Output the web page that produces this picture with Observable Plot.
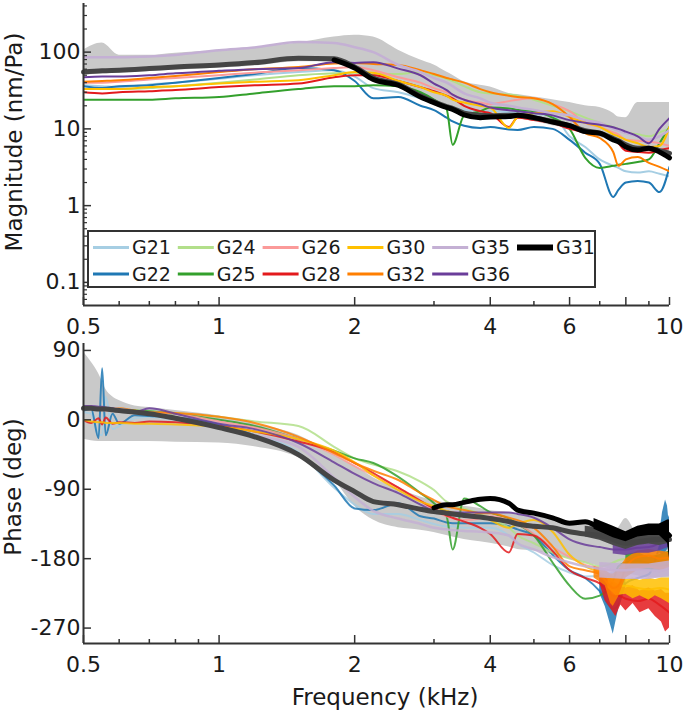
<!DOCTYPE html>
<html><head><meta charset="utf-8">
<script src="https://cdn.jsdelivr.net/npm/d3@7"></script>
<script src="https://cdn.jsdelivr.net/npm/@observablehq/plot@0.6"></script>
<style>body{margin:0;background:#fff}#chart{width:685px}#chart svg{display:block}</style>
</head><body><div id="chart"></div>
<script>
// ---------- DATA ----------
const magFreq = [0.5,0.55,0.6,0.7,0.8,1,1.2,1.5,1.8,2,2.2,2.5,2.8,3,3.2,3.3,3.5,3.8,4,4.4,4.6,5,5.5,6,6.5,7,7.5,7.7,8,8.5,9,9.5,10];
const magG21 = [37,36,35,38,40,45,50,55,58,48,34,30,25,22,20,19,17.6,17,17,16.5,16,15.5,15,8,5.8,4,3.3,3.1,2.8,2.7,2.8,2.6,2.4];
const magG22 = [36,34,36,37,40,46,52,62,58,42,25,26,20,17.6,14,12.5,11,10.3,10.6,9.8,9.7,10.6,10,7.2,4.9,3.5,1.3,1.6,2.0,2.1,2.0,1.5,3.2];
const magG24 = [33,33,33,34,36,40,44,50,53,54,52,52,55,50,45,42,36,30,29,28,27,24,20,17,14,12,10.5,10,9,8.5,8,9,10];
const magG25 = [24,24,24,24,25,26,29,33,36,36,37,36,30,24,18,6.2,15,17,19,18.5,17.6,17,14,10,4.2,3.1,3.3,3.4,3.5,3.7,4.0,6.5,10.6];
const magG26 = [40,40,41,44,46,50,54,58,62,64,58,47,40,34,30,28,24,22,21,23,24,25,21,17,12,10.6,9,8.5,7.2,7,6.8,6.5,6];
const magG28 = [30,29,30,31,32,35,37,39,47,50,50,42,35,31,27,25,20,17,16,10.6,14,13,12,10,9,8.5,7.5,6.5,5.2,5,4.9,5.3,5.6];
const magG30 = [33,33,33,35,36,39,41,43,50,55,54,42,35,30,27,24,22,20,19,10.3,14.3,16,17,14.3,12,10.6,8.5,8,7.2,6.5,5.8,6,10.6];
const magG32 = [41,42,43,46,49,55,60,64,71,72,70,68,58,52,46,44,40,33,30,27,26,25,21,14.3,8.8,7.6,5.0,3.3,4.0,4.3,3.6,3.2,2.8];
const magG35 = [86,86,86,88,92,106,115,135,131,116,100,68,55,46,40,36,29,25,22,20,19,17.6,16,15,13,12,10,9.5,8.8,8,7.2,8,9.7];
const magG36 = [47,48,48,50,53,57,60,62,74,72,74,61,50,39,32,28,24,21,19,17.5,17,16,15,13,12,11.3,10.5,10,9.2,8,6.5,10,13.8];
const magG31 = [null,null,null,null,null,null,null,null,79,62,44,37,26,22,19,18,15.2,14,14.3,14.5,15,14,12.3,11,9.2,8.8,7.2,6.8,5.8,5.3,5.6,5,4.2];
const magMean = [55,57,58,61,64,68,73,83,82,64,46,38,27,22.5,19.5,18.5,16,15,14.8,15,15,14,12.5,11,9.5,8.8,7.5,7,6.2,5.6,5.6,5.2,4.8];
const magBandHi = [106,131,91,91,97,106,116,131,157,166,157,106,79,68,55,50,41,37,35,29,28,26,24,22,20,19,16,14.3,14,22,22,22,22];
const magBandLo = [50,52,53,56,58,62,66,75,74,58,42,34,25,20,18,17,14.5,13.5,13.5,13.5,13.5,12.5,11,10,8.5,7.8,6.8,6.3,5.6,5.0,5.0,4.7,4.3];

const phaseFreq = [0.5,0.52,0.54,0.55,0.56,0.58,0.6,0.65,0.7,0.8,1,1.2,1.5,1.8,2,2.2,2.5,2.8,3,3.2,3.3,3.5,3.8,4,4.4,4.6,5,5.5,6,6.5,7,7.5,7.7,8,8.5,9,9.5,10];
const phG21 = [10,8,-18,-20,30,-12,-8,2,4,0,-10,-20,-42,-88,-110,-122,-122,-130,-135,-138,-138,-140,-140,-140,-150,-160,-172,-188,-198,-203,-202,-198,-195,-190,-190,-188,-188,-190];
const phG22 = [12,14,-24,67,-20,8,-5,6,5,3,-6,-20,-45,-85,-115,-117,-108,-125,-128,-133,-134,-134,-134,-134,-138,-142,-150,-175,-195,-205,-222,-245,-240,-212,-205,-200,-165,-125];
const phG24 = [15,15,14,14,14,13,13,12,11,9,4,-2,-8,-35,-50,-58,-67,-80,-91,-106,-110,-115,-122,-128,-140,-150,-160,-172,-180,-185,-190,-185,-182,-180,-178,-176,-175,-175];
const phG25 = [15,15,15,15,14,14,13,12,11,8,0,-8,-25,-40,-50,-56,-74,-95,-108,-125,-168,-102,-112,-120,-128,-135,-150,-185,-215,-232,-228,-208,-190,-185,-183,-186,-188,-185];
const phG26 = [15,14,13,13,12,12,12,11,10,8,-2,-10,-25,-45,-60,-72,-88,-105,-118,-125,-128,-130,-128,-125,-130,-135,-148,-165,-178,-188,-192,-195,-195,-195,-192,-190,-192,-190];
const phG28 = [0,-4,2,-6,3,-5,-3,-4,-2,-3,-8,-15,-28,-42,-56,-69,-88,-105,-115,-124,-127,-132,-140,-148,-172,-148,-150,-170,-195,-205,-212,-228,-228,-232,-235,-232,-240,-250];
const phG30 = [0,-2,-3,-3,-4,-4,-4,-5,-5,-6,-9,-15,-25,-40,-55,-72,-91,-106,-112,-118,-120,-122,-125,-130,-140,-135,-130,-145,-175,-190,-198,-210,-215,-215,-218,-220,-218,-220];
const phG32 = [18,17,16,16,15,15,15,12,10,9,4,-4,-22,-43,-56,-66,-78,-95,-104,-112,-114,-117,-121,-121,-127,-130,-140,-164,-190,-195,-200,-218,-215,-192,-178,-176,-180,-178];
const phG35 = [18,17,16,16,15,15,14,11,8,3,-10,-20,-35,-75,-100,-118,-128,-135,-140,-142,-143,-144,-145,-146,-150,-160,-168,-178,-185,-190,-193,-195,-195,-195,-194,-195,-196,-192];
const phG36 = [18,18,17,17,16,15,12,10,15,8,-5,-12,-30,-55,-70,-82,-95,-110,-118,-120,-120,-120,-120,-120,-120,-122,-127,-140,-155,-162,-165,-168,-168,-168,-166,-165,-160,-150];
const phG31 = [null,null,null,null,null,null,null,null,null,null,null,null,null,null,null,null,null,null,-114,-110,-110,-107,-103,-102,-108,-117,-121,-127,-134,-132,-140,-148,-150,-152,-147,-145,-142,-150];
const phMean = [15,15,14,14,14,13,12,10,8,2,-10,-22,-45,-78,-93,-106,-110,-116,-119,-121,-122,-124,-126,-128,-132,-135,-138,-140,-145,-148,-150,-155,-158,-160,-158,-156,-155,-155];
const phBandHi = [88,75,60,50,40,30,25,18,16,12,5,-5,-20,-45,-60,-75,-90,-100,-105,-108,-110,-112,-115,-118,-120,-122,-125,-128,-132,-135,-140,-145,-140,-128,-148,-150,-150,-150];
const phBandLo = [-25,-27,-28,-28,-28,-28,-28,-28,-28,-29,-30,-35,-49,-78,-112,-130,-140,-143,-146,-150,-152,-155,-158,-160,-165,-168,-170,-175,-180,-185,-190,-195,-198,-200,-202,-205,-205,-205];

// noisy high-frequency spread of some phase traces (min/max envelopes)
const noiseRedF = [7.0,7.2,7.4,7.6,7.8,8.0,8.3,8.6,9.0,9.3,9.6,9.8,10];
const noiseRedLo = [-212,-235,-245,-255,-240,-248,-238,-250,-245,-255,-262,-275,-270];
const noiseRedHi = [-198,-205,-208,-212,-215,-218,-215,-222,-218,-222,-220,-225,-225];
const noiseYellowF = [7.3,7.6,8.0,8.3,8.6,9.0,9.3,9.6,10];
const noiseYellowLo = [-218,-228,-226,-232,-228,-234,-228,-232,-238];
const noiseYellowHi = [-200,-205,-207,-205,-208,-205,-207,-205,-205];
const noiseOrangeF = [6.8,7.2,7.4,7.5,7.7,8.0,8.5,9.0,9.5,10];
const noiseOrangeLo = [-205,-215,-238,-242,-230,-205,-195,-192,-195,-195];
const noiseOrangeHi = [-190,-195,-200,-200,-195,-180,-170,-168,-170,-172];
const noiseBlueF = [7.0,7.2,7.4,7.5,7.6,7.8,8.0];
const noiseBlueLo = [-225,-242,-266,-278,-262,-232,-215];
const noiseBlueHi = [-205,-210,-220,-230,-225,-210,-205];
const noiseBlue2F = [9.5,9.65,9.8,9.9,10];
const noiseBlue2Lo = [-172,-176,-172,-168,-160];
const noiseBlue2Hi = [-150,-120,-104,-112,-138];
const noiseGreenF = [8.0,8.5,9.0,9.5,10];
const noiseGreenLo = [-195,-195,-195,-195,-190];
const noiseGreenHi = [-175,-172,-178,-175,-170];
const noisePurpleF = [7.5,8,8.5,9,9.5,10];
const noisePurpleLo = [-174,-176,-173,-173,-170,-165];
const noisePurpleHi = [-160,-160,-160,-157,-154,-148];
const noiseLavenderF = [7,8,9,10];
const noiseLavenderLo = [-205,-207,-207,-203];
const noiseLavenderHi = [-185,-187,-187,-183];
const noiseMeanF = [6.5,7.0,7.5,8.0,8.5,9.0,9.5,10];
const noiseMeanLo = [-152,-156,-163,-168,-163,-161,-163,-160];
const noiseMeanHi = [-138,-140,-145,-150,-148,-145,-145,-145];
const noiseBlackF = [6.8,7.5,8.0,8.5,9.0,9.5,9.9,10];
const noiseBlackLo = [-142,-153,-158,-152,-150,-150,-160,-180];
const noiseBlackHi = [-128,-138,-145,-138,-135,-135,-130,-130];

const seriesNames = ["G21","G22","G24","G25","G26","G28","G30","G32","G35","G36"];
const seriesColors = ["#a6cee3","#1f78b4","#b2df8a","#33a02c","#fb9a99","#e31a1c","#ffc000","#ff7f00","#c4b0d4","#6a3d9a"];
const legendRow1 = ["G21","G24","G26","G30","G35","G31"];
const legendRow2 = ["G22","G25","G28","G32","G36"];
const xMajor = [0.5,1,2,4,6,8,10];
const xMinor = [0.6,0.7,0.8,0.9,3,5,7,9];
const magMajor = [0.1,1,10,100];
const magMinor = [0.06,0.07,0.08,0.09,0.2,0.3,0.4,0.5,0.6,0.7,0.8,0.9,2,3,4,5,6,7,8,9,20,30,40,50,60,70,80,90,200,300,400];
const phMajor = [90,0,-90,-180,-270];
const magDomain = [0.05, 430];
const phDomain = [-290, 99];

// ---------- BUILD ----------
const color = Object.fromEntries(seriesNames.map((n,i)=>[n, seriesColors[i]]));
color.G31 = "#000000";
const magVals = {G21:magG21,G22:magG22,G24:magG24,G25:magG25,G26:magG26,G28:magG28,G30:magG30,G32:magG32,G35:magG35,G36:magG36};
const phVals = {G21:phG21,G22:phG22,G24:phG24,G25:phG25,G26:phG26,G28:phG28,G30:phG30,G32:phG32,G35:phG35,G36:phG36};
const rowsOf = (fs, vs) => fs.map((f,i)=>({f, v: vs[i]})).filter(d => d.v != null);
const bandOf = (fs, lo, hi) => fs.map((f,i)=>({f, lo: lo[i], hi: hi[i]}));
const noise = {
  G28: [[noiseRedF,noiseRedLo,noiseRedHi]],
  G30: [[noiseYellowF,noiseYellowLo,noiseYellowHi]],
  G32: [[noiseOrangeF,noiseOrangeLo,noiseOrangeHi]],
  G22: [[noiseBlueF,noiseBlueLo,noiseBlueHi],[noiseBlue2F,noiseBlue2Lo,noiseBlue2Hi]],
  G25: [[noiseGreenF,noiseGreenLo,noiseGreenHi]],
  G36: [[noisePurpleF,noisePurpleLo,noisePurpleHi]],
  G35: [[noiseLavenderF,noiseLavenderLo,noiseLavenderHi]]
};

const W = 685, mL = 83, mR = 16;
const plotW = W - mL - mR;
const font = "DejaVu Sans";
const axisCol = "#333";
const textCol = "#1a1a1a";

function frameMarks(yMajor, yMinor, yBottom, plotH) {
  const m = [
    Plot.ruleY(yMajor, {insetRight: plotW - 8, stroke: axisCol, strokeWidth: 1.5}),
    Plot.ruleX(xMajor, {insetTop: plotH - 8, stroke: axisCol, strokeWidth: 1.5}),
    Plot.ruleX(xMinor, {insetTop: plotH - 4, stroke: axisCol, strokeWidth: 1.5}),
    Plot.ruleX([0.5], {stroke: axisCol, strokeWidth: 2}),
    Plot.ruleY([yBottom], {stroke: axisCol, strokeWidth: 2}),
    Plot.axisX({ticks: xMajor, tickFormat: d => String(d), tickSize: 0, tickPadding: 13, label: null, fontSize: 22}),
    Plot.axisY({ticks: yMajor, tickFormat: d => String(d), tickSize: 0, tickPadding: 3, label: null, fontSize: 22})
  ];
  if (yMinor) m.unshift(Plot.ruleY(yMinor, {insetRight: plotW - 4, stroke: axisCol, strokeWidth: 1.2}));
  return m;
}

// ---- Magnitude panel ----
const topH = 338, topMT = 3, topMB = 33;
const magMarks = [
  Plot.areaY(bandOf(magFreq, magBandLo, magBandHi), {x: "f", y1: "lo", y2: "hi", fill: "#c9c9c9", curve: "monotone-x"}),
  ...seriesNames.map(n => Plot.line(rowsOf(magFreq, magVals[n]), {x: "f", y: "v", stroke: color[n], strokeWidth: n === "G35" ? 2.5 : 2, curve: "monotone-x", clip: true})),
  Plot.line(rowsOf(magFreq, magMean), {x: "f", y: "v", stroke: "#454545", strokeWidth: 5, curve: "monotone-x"}),
  Plot.line(rowsOf(magFreq, magG31), {x: "f", y: "v", stroke: "#000", strokeWidth: 5, curve: "monotone-x"}),
  ...frameMarks(magMajor, magMinor, magDomain[0], topH - topMT - topMB)
];
const topPlot = Plot.plot({
  width: W, height: topH, marginLeft: mL, marginRight: mR, marginTop: topMT, marginBottom: topMB,
  style: {fontFamily: font, fontSize: "22px", color: textCol, background: "#fff", overflow: "visible"},
  x: {type: "log", domain: [0.5, 10]},
  y: {type: "log", domain: magDomain},
  marks: magMarks
});

// ---- Phase panel ----
const botH = 375, botMT = 5, botMB = 70;
const phMarks = [
  Plot.areaY(bandOf(phaseFreq, phBandLo, phBandHi), {x: "f", y1: "lo", y2: "hi", fill: "#c9c9c9", curve: "monotone-x"})
];
seriesNames.forEach(n => {
  (noise[n] || []).forEach(([f, lo, hi]) => phMarks.push(
    Plot.areaY(bandOf(f, lo, hi), {x: "f", y1: "lo", y2: "hi", fill: color[n], fillOpacity: 0.85})));
  phMarks.push(Plot.line(rowsOf(phaseFreq, phVals[n]), {x: "f", y: "v", stroke: color[n], strokeOpacity: 0.85, strokeWidth: n === "G35" ? 2.5 : 2, curve: "monotone-x", clip: true}));
});
phMarks.push(
  Plot.areaY(bandOf(noiseMeanF, noiseMeanLo, noiseMeanHi), {x: "f", y1: "lo", y2: "hi", fill: "#4a4a4a"}),
  Plot.line(rowsOf(phaseFreq, phMean), {x: "f", y: "v", stroke: "#454545", strokeWidth: 5, curve: "monotone-x"}),
  Plot.areaY(bandOf(noiseBlackF, noiseBlackLo, noiseBlackHi), {x: "f", y1: "lo", y2: "hi", fill: "#000"}),
  Plot.line(rowsOf(phaseFreq, phG31), {x: "f", y: "v", stroke: "#000", strokeWidth: 5, curve: "monotone-x"}),
  ...frameMarks(phMajor, null, phDomain[0], botH - botMT - botMB)
);
const botPlot = Plot.plot({
  width: W, height: botH, marginLeft: mL, marginRight: mR, marginTop: botMT, marginBottom: botMB,
  style: {fontFamily: font, fontSize: "22px", color: textCol, background: "#fff", overflow: "visible"},
  x: {type: "log", domain: [0.5, 10]},
  y: {domain: phDomain},
  marks: phMarks
});

// ---- Axis titles ----
function title(svg, txt, x, y, rot) {
  d3.select(svg).append("text")
    .attr("transform", `translate(${x},${y})` + (rot ? ` rotate(${rot})` : ""))
    .attr("text-anchor", "middle").attr("dy", "0.36em")
    .attr("font-family", font).attr("font-size", 23).attr("fill", textCol)
    .text(txt);
}
title(topPlot, "Magnitude (nm/Pa)", 14, 142, -90);
title(botPlot, "Phase (deg)", 13, 149, -90);
title(botPlot, "Frequency (kHz)", 385, 359, 0);

// ---- Legend (inside the magnitude panel) ----
const lg = d3.select(topPlot).append("g").attr("font-family", font).attr("font-size", 19).attr("text-anchor", "start");
lg.append("rect").attr("x", 88).attr("y", 231).attr("width", 507).attr("height", 56)
  .attr("fill", "#fff").attr("stroke", axisCol).attr("stroke-width", 2);
[legendRow1, legendRow2].forEach((row, r) => {
  const y = 247.5 + r * 26.5;
  row.forEach((n, c) => {
    const x = 93 + c * 84.8;
    lg.append("line").attr("x1", x).attr("x2", x + 36).attr("y1", y).attr("y2", y)
      .attr("stroke", color[n]).attr("stroke-width", n === "G31" ? 6 : 3);
    lg.append("text").attr("x", x + 39).attr("y", y).attr("dy", "0.36em").attr("text-anchor", "start").attr("fill", textCol).text(n);
  });
});

const chart = document.getElementById("chart");
chart.append(topPlot, botPlot);
</script></body></html>
